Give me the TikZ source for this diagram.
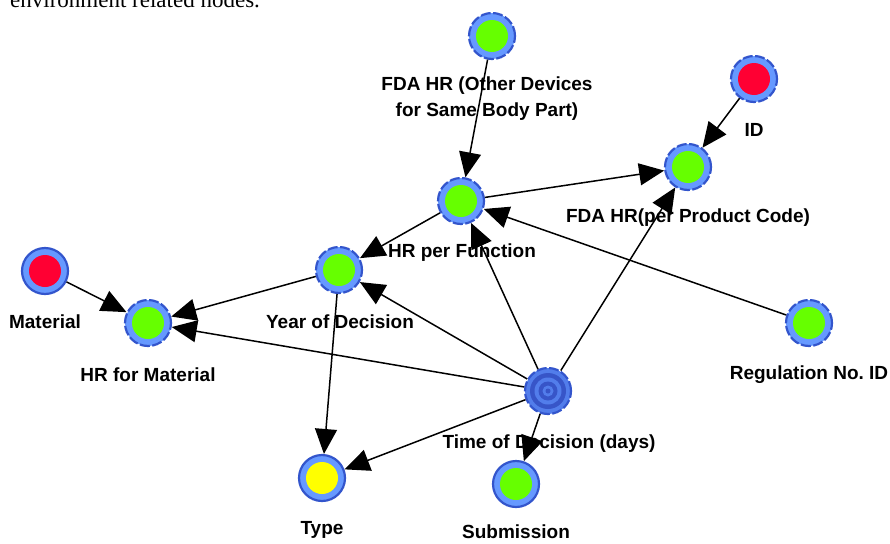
\documentclass[tikz,border=0pt]{standalone}
\usepackage{fontspec}
\setmainfont{Liberation Serif}
\newfontfamily\labelFont{Liberation Sans}
\usetikzlibrary{arrows.meta}
\tikzstyle{graphPlane} = [x = 1pt, y = -1pt]
\definecolor{ringBlue}{RGB}{102,153,255}
\definecolor{ringEdge}{RGB}{51,85,204}
\definecolor{nodeGreen}{RGB}{102,255,0}
\definecolor{nodeRed}{RGB}{255,0,51}
\definecolor{nodeYellow}{RGB}{255,255,0}
\definecolor{targetLight}{RGB}{82,125,235}
\definecolor{targetDark}{RGB}{55,85,200}
\tikzstyle{ringStyle} = [circle, minimum size = 46pt, inner sep = 0pt, fill = ringBlue, draw = ringEdge, line width = 2.2pt]
\tikzstyle{dashedRingStyle} = [ringStyle, dash pattern = on 10pt off 2.5pt]
\tikzstyle{dotStyle} = [circle, minimum size = 32pt, inner sep = 0pt]
\tikzstyle{labelText} = [font = \labelFont\bfseries\fontsize{19}{26}\selectfont, align = center, inner sep = 0pt]
\tikzstyle{edgeLine} = [-{Triangle[length = 25pt, width = 22pt]}, line width = 1.5pt, color = black]
\newcommand{\graphNode}[5]{\node [#5] (#1) at (#2, #3) {}; \node [dotStyle, fill = #4] (#1Dot) at (#1.center) {};}
\newcommand{\nodeLabel}[4]{\node [labelText] (#1) at (#2, #3) {#4};}

\begin{document}
\begin{tikzpicture}[graphPlane]
  \useasboundingbox (0,0) rectangle (890,543);
  \clip (0,0) rectangle (890,543);
  \node [anchor = base west, inner sep = 0pt, font = \fontsize{23}{27}\selectfont] (captionText) at (10, 8) {environment related nodes.};

  % nodes
  \graphNode{fdaOther}{492}{36}{nodeGreen}{dashedRingStyle}
  \graphNode{idNode}{754}{79}{nodeRed}{dashedRingStyle}
  \graphNode{fdaCode}{688}{167}{nodeGreen}{dashedRingStyle}
  \graphNode{hrFunction}{461}{201}{nodeGreen}{dashedRingStyle}
  \graphNode{yearDecision}{339}{270}{nodeGreen}{dashedRingStyle}
  \graphNode{material}{45}{271}{nodeRed}{ringStyle}
  \graphNode{hrMaterial}{148}{323}{nodeGreen}{dashedRingStyle}
  \graphNode{regulation}{809}{323}{nodeGreen}{dashedRingStyle}
  \graphNode{typeNode}{322}{478}{nodeYellow}{ringStyle}
  \graphNode{submission}{516}{484}{nodeGreen}{ringStyle}
  \node [dashedRingStyle, fill = targetLight] (timeDecision) at (548, 391) {};
  \foreach \ringSize/\ringColor in {36pt/targetDark, 27pt/targetLight, 19pt/targetDark, 11pt/targetLight, 5pt/targetDark} {
    \node [circle, inner sep = 0pt, minimum size = \ringSize, fill = \ringColor] at (timeDecision.center) {};
  }

  % labels
  \nodeLabel{fdaOtherLabel}{487}{99}{FDA HR (Other Devices\\for Same Body Part)}
  \nodeLabel{idLabel}{754}{130}{ID}
  \nodeLabel{fdaCodeLabel}{688}{218}{FDA HR(per Product Code)}
  \nodeLabel{hrFunctionLabel}{462}{253}{HR per Function}
  \nodeLabel{yearLabel}{340}{322}{Year of Decision}
  \nodeLabel{materialLabel}{45}{322}{Material}
  \nodeLabel{hrMaterialLabel}{148}{375}{HR for Material}
  \nodeLabel{regulationLabel}{809}{375}{Regulation No.\ ID}
  \nodeLabel{timeLabel}{549}{444}{Time of Decision (days)}
  \nodeLabel{typeLabel}{322}{530}{Type}
  \nodeLabel{submissionLabel}{516}{532}{Submission}

  % edges
  \draw [edgeLine] (fdaOther) -- (hrFunction);
  \draw [edgeLine] (idNode) -- (fdaCode);
  \draw [edgeLine] (hrFunction) -- (fdaCode);
  \draw [edgeLine] (hrFunction) -- (yearDecision);
  \draw [edgeLine] (yearDecision) -- (hrMaterial);
  \draw [edgeLine] (material) -- (hrMaterial);
  \draw [edgeLine] (yearDecision) -- (typeNode);
  \draw [edgeLine] (regulation) -- (hrFunction);
  \draw [edgeLine] (timeDecision) -- (hrMaterial);
  \draw [edgeLine] (timeDecision) -- (yearDecision);
  \draw [edgeLine] (timeDecision) -- (hrFunction);
  \draw [edgeLine] (timeDecision) -- (fdaCode);
  \draw [edgeLine] (timeDecision) -- (typeNode);
  \draw [edgeLine] (timeDecision) -- (submission);
\end{tikzpicture}
\end{document}
